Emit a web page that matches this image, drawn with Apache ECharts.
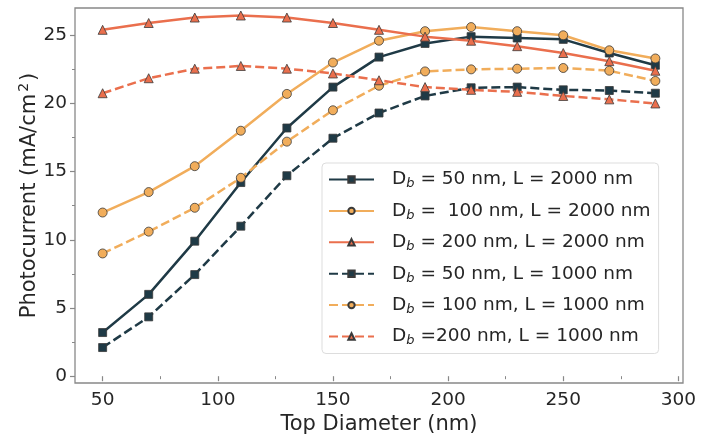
<!DOCTYPE html>
<html>
<head>
<meta charset="utf-8">
<script src="https://cdn.jsdelivr.net/npm/echarts@6/dist/echarts.min.js"></script>
<style>html,body{margin:0;padding:0;background:#fff;}#c{width:712px;height:434px;}</style>
</head>
<body>
<div id="c"></div>
<script>
const topDiameter = [50, 70, 90, 110, 130, 150, 170, 190, 210, 230, 250, 270, 290];
const db50L2000  = [3.2, 6.0, 9.9, 14.2, 18.2, 21.2, 23.4, 24.4, 24.9, 24.8, 24.7, 23.7, 22.8];
const db100L2000 = [12.0, 13.5, 15.4, 18.0, 20.7, 23.0, 24.6, 25.3, 25.6, 25.3, 25.0, 23.9, 23.3];
const db200L2000 = [25.4, 25.9, 26.3, 26.45, 26.3, 25.9, 25.4, 24.9, 24.6, 24.2, 23.7, 23.1, 22.4];
const db50L1000  = [2.1, 4.35, 7.45, 11.0, 14.7, 17.45, 19.3, 20.55, 21.15, 21.2, 21.0, 20.95, 20.75];
const db100L1000 = [9.0, 10.6, 12.35, 14.55, 17.2, 19.5, 21.3, 22.35, 22.5, 22.55, 22.6, 22.4, 21.65];
const db200L1000 = [20.75, 21.85, 22.55, 22.75, 22.55, 22.2, 21.7, 21.2, 21.0, 20.85, 20.55, 20.3, 20.0];
const seriesNames = [
  'Db = 50 nm, L = 2000 nm',
  'Db =  100 nm, L = 2000 nm',
  'Db = 200 nm, L = 2000 nm',
  'Db = 50 nm, L = 1000 nm',
  'Db = 100 nm, L = 1000 nm',
  'Db =200 nm, L = 1000 nm'
];
const xMajorTicks = [50, 100, 150, 200, 250, 300];
const xMinorTicks = [75, 125, 175, 225, 275];
const yMajorTicks = [0, 5, 10, 15, 20, 25];
const yMinorTicks = [2.5, 7.5, 12.5, 17.5, 22.5];
const xTitle = 'Top Diameter (nm)';

const DARK = '#1f3a46', ORANGE = '#f1ad5b', RED = '#ea6f4d';
const FONT = 'DejaVu Sans';
const TXT = '#262626';
const FRAME = '#888888';

const seriesData = [db50L2000, db100L2000, db200L2000, db50L1000, db100L1000, db200L1000];
const colors = [DARK, ORANGE, RED, DARK, ORANGE, RED];
const symbols = ['rect', 'circle', 'triangle', 'rect', 'circle', 'triangle'];
const symbolSizes = [8, 9, 9, 8, 9, 9];
const dashed = [false, false, false, true, true, true];

const series = seriesData.map((vals, i) => ({
  name: seriesNames[i],
  type: 'line',
  xAxisIndex: 0,
  yAxisIndex: 0,
  data: topDiameter.map((x, j) => [x, vals[j]]),
  symbol: symbols[i],
  symbolSize: symbolSizes[i],
  showSymbol: true,
  lineStyle: { color: colors[i], width: 2.5, type: dashed[i] ? [9, 4] : 'solid' },
  itemStyle: { color: colors[i], borderColor: '#3a3a3a', borderWidth: 0.8 },
  z: 2 + i
}));

const chart = echarts.init(document.getElementById('c'), null, { renderer: 'canvas' });
chart.setOption({
  animation: false,
  backgroundColor: '#ffffff',
  grid: { left: 75, right: 29, top: 8, bottom: 51, show: true, borderColor: FRAME, borderWidth: 1.3, backgroundColor: 'transparent', containLabel: false, outerBoundsMode: 'none' },
  xAxis: [{
    type: 'value', min: 38, max: 302, position: 'bottom',
    name: xTitle, nameLocation: 'middle', nameGap: 31, nameMoveOverlap: false,
    nameTextStyle: { fontFamily: FONT, fontSize: 21, color: TXT },
    axisLine: { show: false },
    axisTick: { show: true, inside: false, length: 5, lineStyle: { color: FRAME, width: 1.2 }, customValues: xMajorTicks },
    axisLabel: { fontFamily: FONT, fontSize: 18.5, color: TXT, margin: 8, customValues: xMajorTicks },
    splitLine: { show: false }
  }, {
    type: 'value', min: 38, max: 302, position: 'bottom',
    axisLine: { show: false },
    axisTick: { show: true, inside: false, length: 3, lineStyle: { color: FRAME, width: 1 }, customValues: xMinorTicks },
    axisLabel: { show: false },
    splitLine: { show: false }
  }],
  yAxis: [{
    type: 'value', min: -0.5, max: 27, position: 'left',
    name: '{a|Photocurrent (mA/cm}{s|2}{a|)}', nameLocation: 'middle', nameGap: 32, nameRotate: 90, nameMoveOverlap: false,
    nameTextStyle: {
      fontFamily: FONT, fontSize: 21, color: TXT,
      rich: {
        a: { fontFamily: FONT, fontSize: 21, color: TXT, lineHeight: 26 },
        s: { fontFamily: FONT, fontSize: 14, color: TXT, lineHeight: 14, verticalAlign: 'top', padding: [0, 2, 0, 2] }
      }
    },
    axisLine: { show: false },
    axisTick: { show: true, inside: false, length: 5, lineStyle: { color: FRAME, width: 1.2 }, customValues: yMajorTicks },
    axisLabel: { fontFamily: FONT, fontSize: 18.5, color: TXT, margin: 8, customValues: yMajorTicks },
    splitLine: { show: false }
  }, {
    type: 'value', min: -0.5, max: 27, position: 'left',
    axisLine: { show: false },
    axisTick: { show: true, inside: false, length: 3, lineStyle: { color: FRAME, width: 1 }, customValues: yMinorTicks },
    axisLabel: { show: false },
    splitLine: { show: false }
  }],
  legend: {
    show: true,
    orient: 'vertical',
    left: 322, top: 163,
    padding: [7, 8, 6, 6],
    itemWidth: 45, itemHeight: 8,
    itemGap: 10.9,
    backgroundColor: '#ffffff',
    borderColor: '#dddddd', borderWidth: 1, borderRadius: 4,
    data: seriesNames,
    formatter: function (name) {
      return '{d|D}{b|b}{t|' + name.slice(2) + '}';
    },
    textStyle: {
      fontFamily: FONT, fontSize: 18.5, color: TXT,
      rich: {
        d: { fontFamily: FONT, fontSize: 18.5, color: TXT, lineHeight: 22, padding: [0, 0, 0, 13] },
        b: { fontFamily: FONT, fontSize: 13, fontStyle: 'italic', color: TXT, lineHeight: 13, verticalAlign: 'bottom' },
        t: { fontFamily: FONT, fontSize: 18.5, color: TXT, lineHeight: 22 }
      }
    }
  },
  series: series
});
</script>
</body>
</html>
